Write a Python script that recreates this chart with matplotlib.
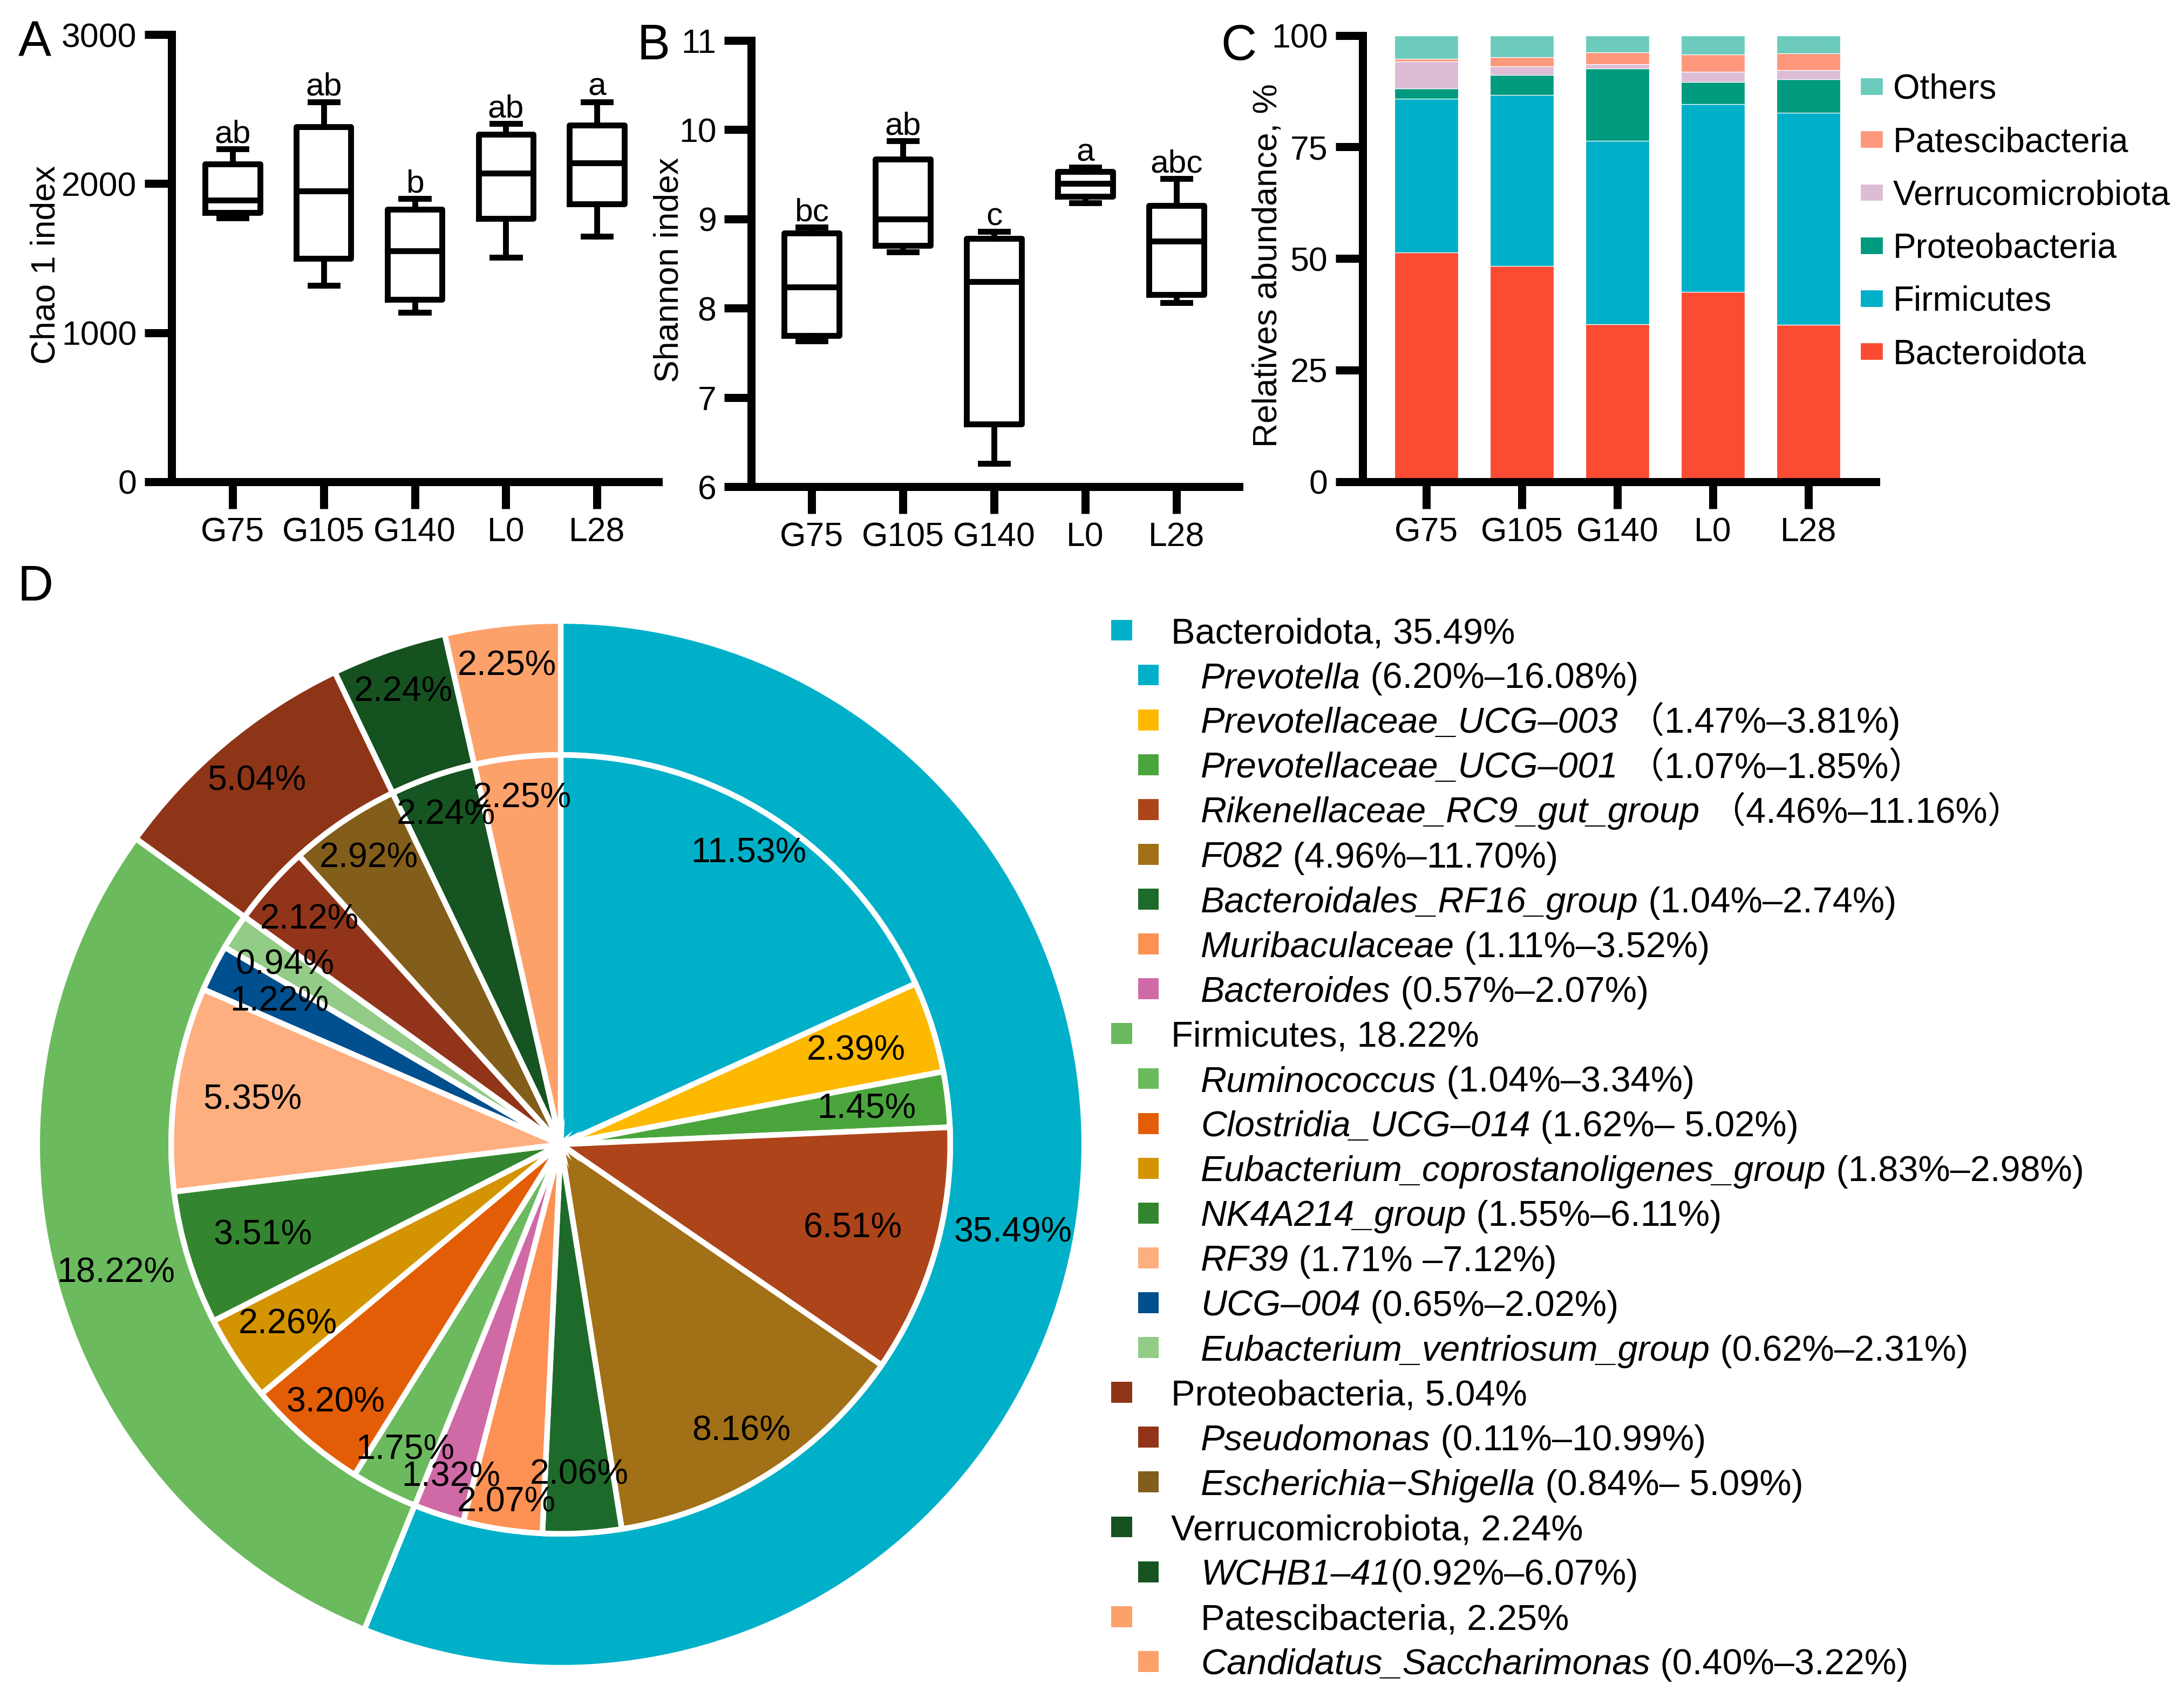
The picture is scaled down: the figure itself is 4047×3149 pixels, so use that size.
import numpy as np
import matplotlib
matplotlib.use('Agg')
import matplotlib.pyplot as plt

plt.rcParams['font.family'] = ['Liberation Sans', 'Noto Sans CJK SC', 'DejaVu Sans']
plt.rcParams['axes.unicode_minus'] = False

W, H = 4047, 3149

# ---- data ----
groups = ['G75', 'G105', 'G140', 'L0', 'L28']

# panel A: Chao 1 index (box statistics)
chao_lo = [1768, 1319, 1137, 1505, 1646]
chao_q1 = [1804, 1500, 1222, 1767, 1864]
chao_med = [1889, 1950, 1549, 2071, 2138]
chao_q3 = [2131, 2381, 1828, 2332, 2392]
chao_hi = [2233, 2549, 1901, 2403, 2549]
chao_letters = ['ab', 'ab', 'b', 'ab', 'a']

# panel B: Shannon index
shan_lo = [7.63, 8.63, 6.26, 9.18, 8.06]
shan_q1 = [7.69, 8.70, 6.70, 9.25, 8.15]
shan_med = [8.235, 9.00, 8.30, 9.40, 8.75]
shan_q3 = [8.84, 9.67, 8.78, 9.53, 9.15]
shan_hi = [8.91, 9.875, 8.86, 9.58, 9.45]
shan_letters = ['bc', 'ab', 'c', 'a', 'abc']

# panel C: phylum relative abundance (%)
phyla = ['Bacteroidota', 'Firmicutes', 'Proteobacteria', 'Verrucomicrobiota',
         'Patescibacteria', 'Others']
bacteroidota = [51.4, 48.3, 35.3, 42.5, 35.1]
firmicutes = [34.4, 38.3, 41.1, 42.1, 47.6]
proteobacteria = [2.3, 4.5, 16.2, 5.0, 7.4]
verrucomicrobiota = [6.1, 2.0, 0.9, 2.3, 2.1]
patescibacteria = [0.5, 2.0, 2.7, 3.8, 3.8]
others = [5.3, 4.9, 3.8, 4.3, 4.0]
phyla_colors = ['#FB4B33', '#00B0C8', '#009A7E', '#DDBDD5', '#FD987C', '#6CCBBC']

# panel D: pie (outer = phylum, inner = genus)
outer_vals = [35.49, 18.22, 5.04, 2.24, 2.25]
outer_colors = ['#00B0C8', '#6BBA5E', '#8E3518', '#15521F', '#FDA16B']
inner_vals = [11.53, 2.39, 1.45, 6.51, 8.16, 2.06, 2.07, 1.32,
              1.75, 3.20, 2.26, 3.51, 5.35, 1.22, 0.94,
              2.12, 2.92, 2.24, 2.25]
inner_colors = ['#00B0C8', '#FDB900', '#4AA63C', '#AE441A', '#A27016', '#1E6A2A', '#FC9153', '#CF6AA6',
                '#6BBA5E', '#E35D06', '#D49300', '#33862F', '#FEAF80', '#004F8E', '#92CC86',
                '#91341A', '#835D1A', '#165421', '#FDA16B']
# radial label placement (fraction of wedge radius)
outer_label_r = [0.88, 0.885, 0.905, 0.915, 0.92]
inner_label_r = [0.89, 0.795, 0.79, 0.78, 0.87, 0.85, 0.93, 0.90, 0.88, 0.88,
                 0.84, 0.80, 0.80, 0.81, 0.845, 0.865, 0.885, 0.895, 0.895]

# legend of panel D
leg_names = ['Bacteroidota, 35.49%', 'Prevotella', 'Prevotellaceae_UCG–003', 'Prevotellaceae_UCG–001',
             'Rikenellaceae_RC9_gut_group', 'F082', 'Bacteroidales_RF16_group', 'Muribaculaceae',
             'Bacteroides', 'Firmicutes, 18.22%', 'Ruminococcus', 'Clostridia_UCG–014',
             'Eubacterium_coprostanoligenes_group', 'NK4A214_group', 'RF39', 'UCG–004',
             'Eubacterium_ventriosum_group', 'Proteobacteria, 5.04%', 'Pseudomonas',
             'Escherichia−Shigella', 'Verrucomicrobiota, 2.24%', 'WCHB1–41',
             'Patescibacteria, 2.25%', 'Candidatus_Saccharimonas']
leg_ranges = ['', ' (6.20%–16.08%)', ' （1.47%–3.81%)', ' （1.07%–1.85%）',
              ' （4.46%–11.16%）', ' (4.96%–11.70%)', ' (1.04%–2.74%)', ' (1.11%–3.52%)',
              ' (0.57%–2.07%)', '', ' (1.04%–3.34%)', ' (1.62%– 5.02%)',
              ' (1.83%–2.98%)', ' (1.55%–6.11%)', ' (1.71% –7.12%)', ' (0.65%–2.02%)',
              ' (0.62%–2.31%)', '', ' (0.11%–10.99%)',
              ' (0.84%– 5.09%)', '', '(0.92%–6.07%)',
              '', ' (0.40%–3.22%)']
leg_colors = ['#00B0C8', '#00B0C8', '#FDB900', '#4AA63C', '#AE441A', '#A27016', '#1E6A2A', '#FC9153',
              '#CF6AA6', '#6BBA5E', '#6BBA5E', '#E35D06', '#D49300', '#33862F', '#FEAF80', '#004F8E',
              '#92CC86', '#8E3518', '#91341A', '#835D1A', '#15521F', '#165421', '#FDA16B', '#FDA16B']
leg_sq_level = [1, 2, 2, 2, 2, 2, 2, 2, 2, 1, 2, 2, 2, 2, 2, 2, 2, 1, 2, 2, 1, 2, 1, 2]
leg_txt_level = [1, 2, 2, 2, 2, 2, 2, 2, 2, 1, 2, 2, 2, 2, 2, 2, 2, 1, 2, 2, 1, 2, 2, 2]

fig = plt.figure(figsize=(W / 300, H / 300), dpi=300)


def style_axis(ax):
    for s in ['top', 'right']:
        ax.spines[s].set_visible(False)
    for s in ['left', 'bottom']:
        ax.spines[s].set_linewidth(3.6)
    ax.tick_params(width=3.6, length=12, labelsize=15, pad=3.5)


def box_panel(ax, lo, q1, med, q3, hi, letters):
    stats = [dict(med=m, q1=a, q3=b, whislo=l, whishi=h)
             for l, a, m, b, h in zip(lo, q1, med, q3, hi)]
    lp = dict(color='black', linewidth=2.6)
    ax.bxp(stats, positions=np.arange(len(groups)), widths=0.6, capwidths=0.3,
           showfliers=False, boxprops=lp, whiskerprops=lp, capprops=lp, medianprops=lp)
    for i, (h, let) in enumerate(zip(hi, letters)):
        ax.annotate(let, xy=(i, h), xytext=(0, 2.8), textcoords='offset points',
                    ha='center', va='baseline', fontsize=14.5)
    ax.set_xticks(np.arange(len(groups)))
    ax.set_xticklabels(groups)
    style_axis(ax)


# A
axA = fig.add_axes([318 / W, 1 - 893 / H, 902 / W, 829 / H])
box_panel(axA, chao_lo, chao_q1, chao_med, chao_q3, chao_hi, chao_letters)
axA.set_xlim(-0.67, 4.675)
axA.set_ylim(0, 3000)
axA.set_yticks([0, 1000, 2000, 3000])
axA.set_ylabel('Chao 1 index', fontsize=15)
axA.yaxis.set_label_coords(-0.226, 0.485)

# B
axB = fig.add_axes([1392 / W, 1 - 902 / H, 904 / W, 827 / H])
box_panel(axB, shan_lo, shan_q1, shan_med, shan_q3, shan_hi, shan_letters)
axB.set_xlim(-0.663, 4.686)
axB.set_ylim(6, 11)
axB.set_yticks([6, 7, 8, 9, 10, 11])
axB.set_ylabel('Shannon index', fontsize=15)
axB.yaxis.set_label_coords(-0.135, 0.485)

# C
axC = fig.add_axes([2525 / W, 1 - 892.6 / H, 951 / W, 827 / H])
x = np.arange(len(groups))
series = [bacteroidota, firmicutes, proteobacteria, verrucomicrobiota, patescibacteria, others]
bottom = np.zeros(len(groups))
handles = []
for name, vals, col in zip(phyla, series, phyla_colors):
    b = axC.bar(x, vals, bottom=bottom, width=0.667, color=col, edgecolor='white',
                linewidth=0.3, label=name)
    handles.append(b)
    bottom += np.array(vals)
axC.set_xticks(x)
axC.set_xticklabels(groups)
axC.set_xlim(-0.667, 4.706)
axC.set_ylim(0, 100)
axC.set_yticks([0, 25, 50, 75, 100])
style_axis(axC)
axC.set_ylabel('Relatives abundance, %', fontsize=15)
axC.yaxis.set_label_coords(-0.1535, 0.485)
axC.legend(handles[::-1], phyla[::-1], loc='upper left', bbox_to_anchor=(0.9695, 0.915),
           frameon=False, fontsize=15.3, handlelength=0.66, handleheight=0.39,
           handletextpad=0.3, labelspacing=0.6, borderpad=0, borderaxespad=0)

# D pie
axD = fig.add_axes([0.01223, 0.01223, 1979 / W, 1979 / H])
out_sum = sum(outer_vals)
in_sum = sum(inner_vals)
w_out, _ = axD.pie(outer_vals, radius=1, startangle=90, counterclock=False, colors=outer_colors,
                   wedgeprops=dict(width=0.256, edgecolor='white', linewidth=2.5))
w_in, _ = axD.pie(inner_vals, radius=0.744, startangle=90, counterclock=False, colors=inner_colors,
                  wedgeprops=dict(edgecolor='white', linewidth=2.5))
for wedges, vals, rfrac in [(w_out, outer_vals, outer_label_r), (w_in, inner_vals, inner_label_r)]:
    for wd, v, rf in zip(wedges, vals, rfrac):
        ang = np.deg2rad((wd.theta1 + wd.theta2) / 2)
        axD.text(wd.r * rf * np.cos(ang), wd.r * rf * np.sin(ang), f'{v:.2f}%',
                 ha='center', va='center', fontsize=15.5)
axD.set_xlim(-1.02, 1.02)
axD.set_ylim(-1.02, 1.02)

# D legend
lax = fig.add_axes([2000 / W, 1 - 3120.9 / H, 2047 / W, 1994.5 / H])
lax.set_xlim(0, 2047)
lax.set_ylim(23.5, -0.5)
lax.axis('off')
rows = np.arange(len(leg_names))
sq_x = np.where(np.array(leg_sq_level) == 1, 78.5, 128)
lax.scatter(sq_x, rows, s=87, marker='s', c=leg_colors, linewidths=0)
for i, (name, rng, lvl) in enumerate(zip(leg_names, leg_ranges, leg_txt_level)):
    tx = 170 if lvl == 1 else 225
    if leg_sq_level[i] == 1:
        lax.text(tx, i + 0.29, name, fontsize=16, va='baseline', ha='left')
    else:
        t1 = lax.text(tx, i + 0.29, name, fontsize=16, style='italic', va='baseline', ha='left')
        lax.annotate(rng, xy=(1, 0), xycoords=t1, fontsize=16, va='bottom', ha='left')

# panel letters
fig.text(34 / W, 1 - 104 / H, 'A', fontsize=22, va='baseline', ha='left')
fig.text(1180 / W, 1 - 110 / H, 'B', fontsize=22, va='baseline', ha='left')
fig.text(2262 / W, 1 - 111 / H, 'C', fontsize=22, va='baseline', ha='left')
fig.text(32 / W, 1 - 1113 / H, 'D', fontsize=22, va='baseline', ha='left')

fig.savefig('out.png', dpi=300)
